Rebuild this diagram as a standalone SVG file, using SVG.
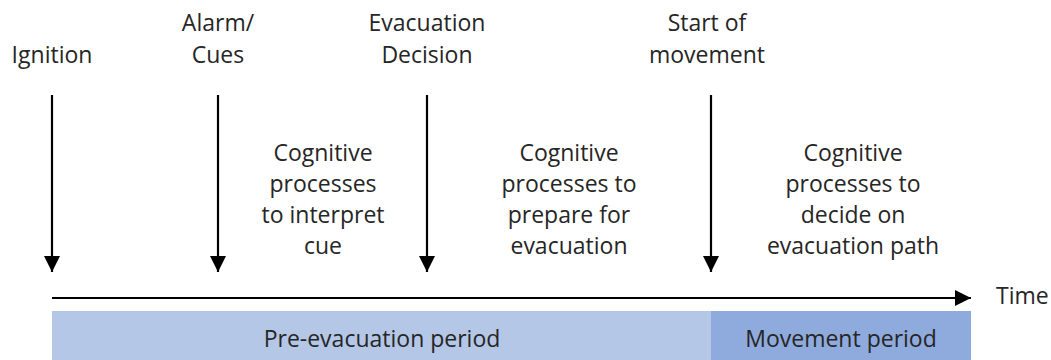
<svg xmlns="http://www.w3.org/2000/svg" width="1051" height="360" viewBox="0 0 1051 360">
  <style>
    text { font-family: "Open Sans", "Noto Sans", sans-serif; font-size: 23px; fill: #262626; text-anchor: middle; }
    .lbl-start { text-anchor: start; }
    .event { stroke: #000; stroke-width: 2.2; fill: none; }
  </style>
  <defs>
    <marker id="head" viewBox="0 0 16 16" refX="16" refY="8" markerUnits="userSpaceOnUse" markerWidth="16" markerHeight="16" orient="auto">
      <path d="M0,0 L16,8 L0,16 Z" fill="#000"/>
    </marker>
  </defs>

  <!-- period bars -->
  <g id="pre-evacuation">
    <rect x="52" y="311" width="659" height="49" fill="#B4C7E7"/>
    <text x="382" y="347">Pre-evacuation period</text>
  </g>
  <g id="movement">
    <rect x="711" y="311" width="260" height="49" fill="#8FAADC"/>
    <text x="841" y="347">Movement period</text>
  </g>

  <!-- connectors: event arrows and time axis -->
  <g id="connectors">
    <line class="event" x1="52" y1="95" x2="52" y2="272" marker-end="url(#head)"/>
    <line class="event" x1="218" y1="95" x2="218" y2="272" marker-end="url(#head)"/>
    <line class="event" x1="427" y1="95" x2="427" y2="272" marker-end="url(#head)"/>
    <line class="event" x1="711" y1="95" x2="711" y2="272" marker-end="url(#head)"/>
    <line class="event" x1="52" y1="298" x2="971" y2="298" marker-end="url(#head)"/>
  </g>

  <!-- event labels -->
  <g id="ignition">
    <text x="52" y="63">Ignition</text>
  </g>
  <g id="alarm">
    <text x="218" y="31">Alarm/</text>
    <text x="218" y="63">Cues</text>
  </g>
  <g id="decision">
    <text x="427" y="31">Evacuation</text>
    <text x="427" y="63">Decision</text>
  </g>
  <g id="start-movement">
    <text x="707" y="31">Start of</text>
    <text x="707" y="63">movement</text>
  </g>

  <!-- process descriptions -->
  <g id="interpret">
    <text x="323" y="161">Cognitive</text>
    <text x="323" y="192">processes</text>
    <text x="323" y="223">to interpret</text>
    <text x="323" y="254">cue</text>
  </g>
  <g id="prepare">
    <text x="569" y="161">Cognitive</text>
    <text x="569" y="192">processes to</text>
    <text x="569" y="223">prepare for</text>
    <text x="569" y="254">evacuation</text>
  </g>
  <g id="path">
    <text x="853" y="161">Cognitive</text>
    <text x="853" y="192">processes to</text>
    <text x="853" y="223">decide on</text>
    <text x="853" y="254">evacuation path</text>
  </g>

  <g id="time">
    <text class="lbl-start" x="996" y="304">Time</text>
  </g>
</svg>
